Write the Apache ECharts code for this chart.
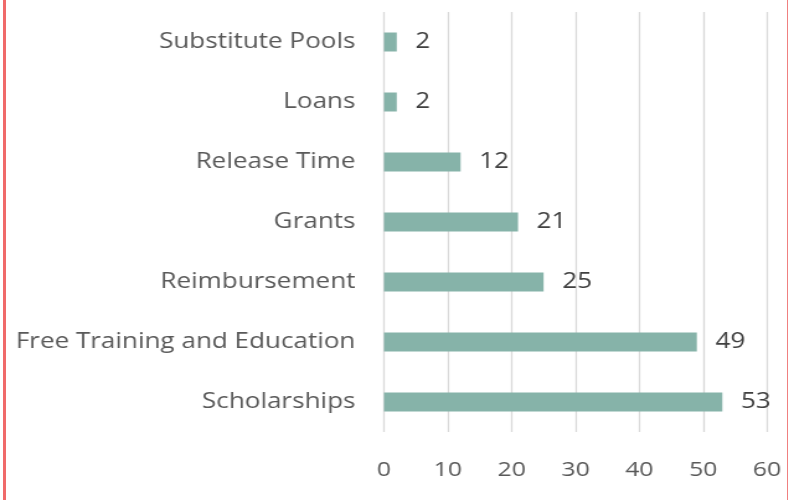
<!DOCTYPE html>
<html lang="en">
<head>
  <meta charset="UTF-8">
  <title>Bar chart</title>
  <script src="https://cdn.jsdelivr.net/npm/echarts@6/dist/echarts.min.js"></script>
  <style>
    html, body { margin: 0; padding: 0; background: #fff; overflow: hidden; }
    /* the source picture is stretched sideways, so the chart is drawn narrow and widened */
    #main { width: 636px; height: 500px; position: absolute; left: 0; top: 0;
            transform: scaleX(1.2406); transform-origin: 0 0; }
    #edgeL { position: absolute; left: 3px; top: 0; width: 3px; height: 500px; background: #f06a6a; }
    #edgeR { position: absolute; left: 787px; top: 0; width: 1px; height: 500px; background: #f08080; }
  </style>
</head>
<body>
  <div id="main"></div>
  <div id="edgeL"></div>
  <div id="edgeR"></div>
  <script>
    // categories bottom -> top
    var categories = ['Scholarships', 'Free Training and Education', 'Reimbursement', 'Grants', 'Release Time', 'Loans', 'Substitute Pools']
    var values = [53, 49, 25, 21, 12, 2, 2]
    var tickLabels = [0, 10, 20, 30, 40, 50, 60]

    var fontFam = '"Open Sans", "Noto Sans", sans-serif'
    var chart = echarts.init(document.getElementById('main'))
    var option = {
      animation: false,
      grid: { left: 309.5, right: 17.7, top: 12, bottom: 68, containLabel: false },
      xAxis: {
        type: 'value',
        min: tickLabels[0],
        max: tickLabels[tickLabels.length - 1],
        interval: 10,
        axisLine: { show: false },
        axisTick: { show: false },
        splitLine: { show: true, lineStyle: { color: '#d9d9d9', width: 1.3 } },
        axisLabel: { color: '#595959', fontSize: 20, fontFamily: fontFam, margin: 28 }
      },
      yAxis: {
        type: 'category',
        data: categories,
        axisLine: { show: false },
        axisTick: { show: false },
        axisLabel: { color: '#595959', fontSize: 21, fontFamily: fontFam, margin: 23, padding: [2, 0, 0, 0] }
      },
      series: [{
        type: 'bar',
        data: values,
        barWidth: 19,
        itemStyle: { color: '#86b3a9' },
        label: {
          show: true,
          position: 'right',
          distance: 15,
          color: '#404040',
          fontSize: 21,
          fontFamily: fontFam
        }
      }]
    }
    chart.setOption(option)
  </script>
</body>
</html>
